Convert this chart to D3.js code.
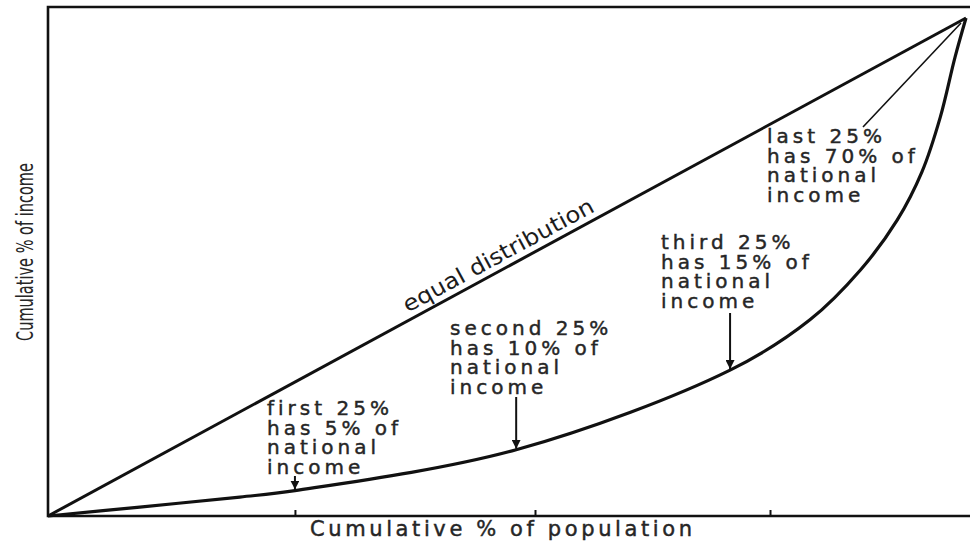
<!DOCTYPE html>
<html>
<head>
<meta charset="utf-8">
<script src="https://cdn.jsdelivr.net/npm/d3@7"></script>
<style>
	body { margin: 0; background: #fff; }
	svg { display: block; }
	.note { font-family: "DejaVu Sans", sans-serif; font-size: 20px; fill: #262626;
		stroke: #262626; stroke-width: 0.45px; letter-spacing: 4px; }
</style>
</head>
<body>
<svg width="970" height="541"></svg>
<script>
// data.........................................................................

var popShare = [0, 10, 20.9, 26.9, 51, 74.3, 83, 88.5, 92.5, 95.2, 97.2, 98.8, 100],
	incomeShare = [0, 1.8, 3.8, 5.1, 13.3, 29.3, 39.4, 49.4, 59.4, 69.1, 80.1, 92.1, 100],
	equalLine = [0, 100],
	xTicks = [26.9, 53.05, 78.65],
	noteLines = [
		["first 25%", "has 5% of", "national", "income"],
		["second 25%", "has 10% of", "national", "income"],
		["third 25%", "has 15% of", "national", "income"],
		["last 25%", "has 70% of", "national", "income"]
	],
	noteTarget = [3, 4, 5, 12],   // index of the curve point each note points at
	xTitle = "Cumulative % of population",
	yTitle = "Cumulative % of income",
	equalTitle = "equal distribution";

// setup........................................................................

var svg = d3.select("svg"),
	x = d3.scaleLinear().domain([0, 100]).range([48, 966]),
	y = d3.scaleLinear().domain([0, 100]).range([516, 18]),
	ink = "#111",

	// where the notes sit: left edge, first baseline, start of the pointer
	noteBox = [
		{x: 267, y: 415, from: 476},
		{x: 450, y: 335, from: 397},
		{x: 661, y: 249, from: 313},
		{x: 767, y: 143, from: [863, 127]}
	];

svg.append("defs").append("marker")
	.attr("id", "head")
	.attr("viewBox", "0 0 10 10")
	.attr("refX", 10).attr("refY", 5)
	.attr("markerWidth", 9).attr("markerHeight", 9)
	.attr("markerUnits", "userSpaceOnUse")
	.attr("orient", "auto")
	.append("path")
		.attr("d", "M0,0L10,5L0,10Z")
		.attr("fill", ink);

// frame and axis...............................................................

svg.append("path")
	.attr("d", "M970,7H" + x(0) + "V" + y(0) + "H970")
	.attr("fill", "none")
	.attr("stroke", ink)
	.attr("stroke-width", 2.6);

svg.append("g")
	.attr("transform", "translate(0," + y(0) + ")")
	.call(d3.axisBottom(x).tickValues(xTicks).tickSize(-6).tickFormat(""))
	.call(function(g) {
		g.select(".domain").remove();
		g.selectAll("line").attr("stroke", ink).attr("stroke-width", 2);
	});

svg.append("text")
	.attr("x", 501).attr("y", 536)
	.attr("text-anchor", "middle")
	.attr("class", "note")
	.attr("textLength", 382)
	.style("font-size", "21px")
	.style("letter-spacing", "0px")
	.text(xTitle);

svg.append("text")
	.attr("transform", "translate(33,252) rotate(-90)")
	.attr("text-anchor", "middle")
	.attr("textLength", 178)
	.attr("lengthAdjust", "spacingAndGlyphs")
	.style("font-family", "'DejaVu Sans Condensed', 'DejaVu Sans', sans-serif")
	.style("font-size", "23px")
	.style("fill", "#262626")
	.text(yTitle);

// lines........................................................................

var line = d3.line()
	.x(function(d) { return x(d[0]); })
	.y(function(d) { return y(d[1]); });

svg.append("path")
	.datum(equalLine.map(function(d) { return [d, d]; }))
	.attr("d", line)
	.attr("fill", "none")
	.attr("stroke", ink)
	.attr("stroke-width", 3);

svg.append("path")
	.datum(popShare.map(function(d, i) { return [d, incomeShare[i]]; }))
	.attr("d", line.curve(d3.curveCatmullRom.alpha(0.5)))
	.attr("fill", "none")
	.attr("stroke", ink)
	.attr("stroke-width", 3.2);

// text along the diagonal
var angle = Math.atan2(y(100) - y(0), x(100) - x(0)) * 180 / Math.PI;
svg.append("text")
	.attr("transform", "translate(" + x(49.8) + "," + y(49.8) + ") rotate(" + angle + ") translate(0,-7)")
	.attr("text-anchor", "middle")
	.attr("textLength", 214)
	.attr("lengthAdjust", "spacingAndGlyphs")
	.style("font-family", "'DejaVu Sans', sans-serif")
	.style("font-size", "22px")
	.style("fill", "#1c1c1c")
	.text(equalTitle);

// notes........................................................................

noteLines.forEach(function(lines, k) {
	var box = noteBox[k],
		i = noteTarget[k],
		tx = x(popShare[i]),
		ty = y(incomeShare[i]);

	svg.append("text")
		.attr("class", "note")
		.attr("x", box.x)
		.attr("y", box.y)
		.selectAll("tspan")
		.data(lines)
		.enter().append("tspan")
			.attr("x", box.x)
			.attr("dy", function(d, j) { return j ? 19.5 : 0; })
			.text(function(d) { return d; });

	if(Array.isArray(box.from))
		svg.append("line")
			.attr("x1", box.from[0]).attr("y1", box.from[1])
			.attr("x2", tx - 5).attr("y2", ty + 5)
			.attr("stroke", ink)
			.attr("stroke-width", 1.6);
	else
		svg.append("line")
			.attr("x1", tx).attr("y1", box.from)
			.attr("x2", tx).attr("y2", ty - 1)
			.attr("stroke", ink)
			.attr("stroke-width", 2)
			.attr("marker-end", "url(#head)");
});
</script>
</body>
</html>
